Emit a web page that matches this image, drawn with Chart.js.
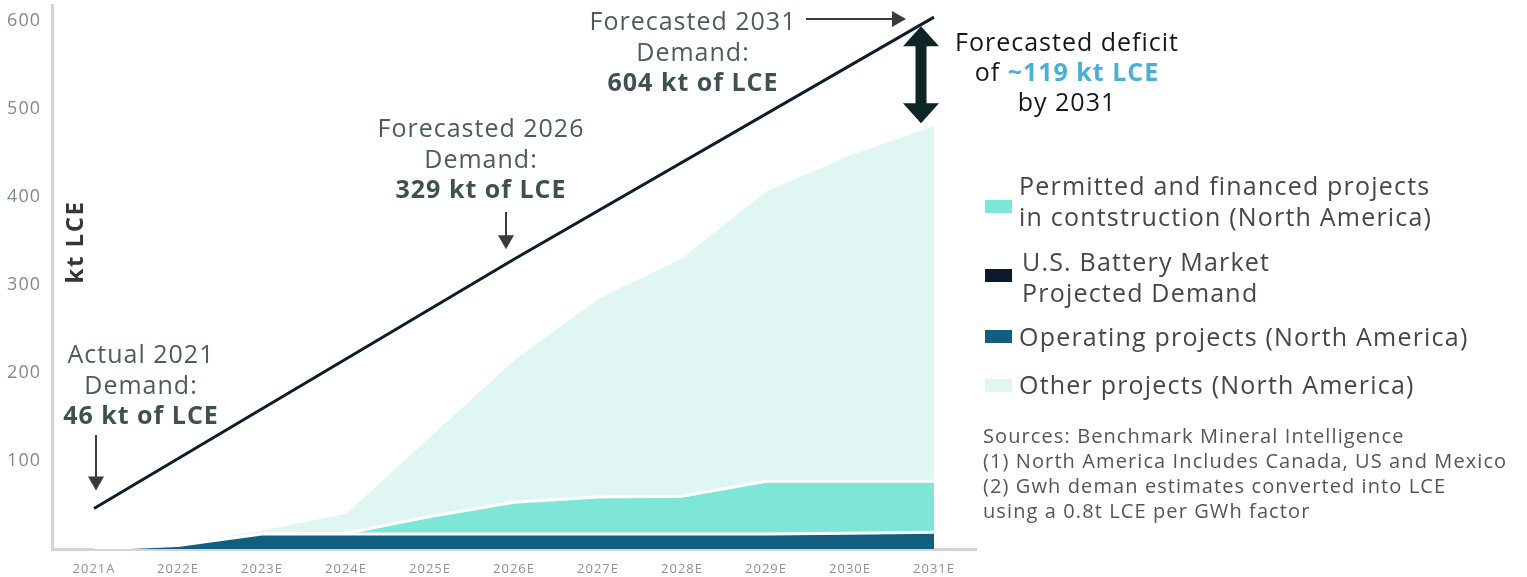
<!DOCTYPE html>
<html>
<head>
<meta charset="utf-8">
<script src="https://cdn.jsdelivr.net/npm/chart.js@4.4.1/dist/chart.umd.min.js"></script>
<style>
  body { margin: 0; background: #fff; font-family: 'Open Sans', sans-serif; }
  #wrap { position: relative; width: 1527px; height: 577px; overflow: hidden; }
  #grafico { position: absolute; left: 0; top: 0; }
  .leg { position: absolute; left: 985px; color: #4a4446; font-size: 25px; line-height: 31px; letter-spacing: 1.2px; }
  .leg .cx { position: absolute; left: 0; width: 27px; height: 13px; }
  .leg .tx { position: absolute; white-space: nowrap; }
  .fontes { position: absolute; left: 983px; top: 423px; color: #555; font-size: 20px; line-height: 25px; letter-spacing: 1.1px; white-space: nowrap; }
</style>
</head>
<body>
<div id="wrap">
  <canvas id="grafico" width="1527" height="577"></canvas>

  <div class="leg" style="top:170px">
    <div class="cx" style="top:30px;background:#7de6d6"></div>
    <div class="tx" style="left:34px;top:0">Permitted and financed projects<br>in contstruction (North America)</div>
  </div>
  <div class="leg" style="top:246px">
    <div class="cx" style="top:23px;background:#0a1c2a"></div>
    <div class="tx" style="left:37px;top:0">U.S. Battery Market<br>Projected Demand</div>
  </div>
  <div class="leg" style="top:321px">
    <div class="cx" style="top:9px;background:#115e7e"></div>
    <div class="tx" style="left:34px;top:0">Operating projects (North America)</div>
  </div>
  <div class="leg" style="top:369px">
    <div class="cx" style="top:10px;background:#dff6f3"></div>
    <div class="tx" style="left:34px;top:0">Other projects (North America)</div>
  </div>

  <div class="fontes">
    Sources: Benchmark Mineral Intelligence<br>
    (1) North America Includes Canada, US and Mexico<br>
    (2) Gwh deman estimates converted into LCE<br>
    using a 0.8t LCE per GWh factor
  </div>
</div>

<script>
const anos = ['2021A', '2022E', '2023E', '2024E', '2025E', '2026E', '2027E', '2028E', '2029E', '2030E', '2031E']
const marcasY = [100, 200, 300, 400, 500, 600]

// demanda projetada (kt LCE) - so os pontos marcados no grafico
const demanda = [46, null, null, null, null, 329, null, null, null, null, 604]

// camadas empilhadas (kt LCE)
const operacao = [0, 4, 17, 17, 17, 17, 17, 17, 17, 18, 19]
const permitidos = [0, 0, 0, 1, 20, 36, 42, 43, 60, 59, 58]
const outros = [0, 0, 4, 22, 90, 161, 225, 270, 329, 370, 403]

const corTexto = '#4a5d5c'
const corNegrito = '#3d5151'
const corSeta = '#3b3b3b'
const fonte = '"Open Sans"'

const setaBaixo = (ctx, x, y1, y2) => {
  ctx.strokeStyle = corSeta
  ctx.fillStyle = corSeta
  ctx.lineWidth = 2
  ctx.beginPath()
  ctx.moveTo(x, y1)
  ctx.lineTo(x, y2 - 12)
  ctx.stroke()
  ctx.beginPath()
  ctx.moveTo(x - 8, y2 - 14)
  ctx.lineTo(x + 8, y2 - 14)
  ctx.lineTo(x, y2)
  ctx.closePath()
  ctx.fill()
}

const textoNota = (ctx, x, y, linhas) => {
  ctx.textAlign = 'center'
  ctx.textBaseline = 'middle'
  linhas.forEach((l, i) => {
    ctx.font = (l.negrito ? 'bold ' : '') + '25px ' + fonte
    ctx.fillStyle = l.negrito ? corNegrito : corTexto
    ctx.fillText(l.t, x, y + i * 30.5)
  })
}

const notas = {
  id: 'notas',
  beforeDraw(chart) {
    chart.ctx.letterSpacing = '1px'
  },
  afterDatasetsDraw(chart) {
    const { ctx, scales: { x, y } } = chart
    ctx.save()
    ctx.letterSpacing = '1px'

    // titulo do eixo
    ctx.save()
    ctx.translate(76, 242)
    ctx.rotate(-Math.PI / 2)
    ctx.letterSpacing = '1.5px'
    ctx.font = 'bold 24px ' + fonte
    ctx.fillStyle = '#3a3336'
    ctx.textAlign = 'center'
    ctx.textBaseline = 'middle'
    ctx.fillText('kt LCE', 0, 0)
    ctx.restore()

    // 2021
    const x0 = x.getPixelForValue(0)
    textoNota(ctx, 141, 356, [{ t: 'Actual 2021' }, { t: 'Demand:' }, { t: '46 kt of LCE', negrito: true }])
    setaBaixo(ctx, x0 + 2, 435, y.getPixelForValue(demanda[0]) - 18)

    // 2026
    const x5 = x.getPixelForValue(5)
    textoNota(ctx, 481, 130, [{ t: 'Forecasted 2026' }, { t: 'Demand:' }, { t: '329 kt of LCE', negrito: true }])
    setaBaixo(ctx, x5 - 8, 212, y.getPixelForValue(demanda[5]) - 10)

    // 2031
    const x10 = x.getPixelForValue(10)
    textoNota(ctx, 693, 23, [{ t: 'Forecasted 2031' }, { t: 'Demand:' }, { t: '604 kt of LCE', negrito: true }])
    const yS = 19
    ctx.strokeStyle = corSeta
    ctx.fillStyle = corSeta
    ctx.lineWidth = 2
    ctx.beginPath()
    ctx.moveTo(806, yS)
    ctx.lineTo(x10 - 40, yS)
    ctx.stroke()
    ctx.beginPath()
    ctx.moveTo(x10 - 42, yS - 8)
    ctx.lineTo(x10 - 42, yS + 8)
    ctx.lineTo(x10 - 28, yS)
    ctx.closePath()
    ctx.fill()

    // seta dupla do deficit
    const topo = y.getPixelForValue(demanda[10]) + 9
    const ofertaFinal = operacao[10] + permitidos[10] + outros[10]
    const base = y.getPixelForValue(ofertaFinal) - 3
    const xa = x10 - 13
    ctx.fillStyle = '#0e2526'
    ctx.beginPath()
    ctx.moveTo(xa, topo)
    ctx.lineTo(xa + 18, topo + 20)
    ctx.lineTo(xa + 5.5, topo + 20)
    ctx.lineTo(xa + 5.5, base - 20)
    ctx.lineTo(xa + 18, base - 20)
    ctx.lineTo(xa, base)
    ctx.lineTo(xa - 18, base - 20)
    ctx.lineTo(xa - 5.5, base - 20)
    ctx.lineTo(xa - 5.5, topo + 20)
    ctx.lineTo(xa - 18, topo + 20)
    ctx.closePath()
    ctx.fill()

    // texto do deficit
    ctx.textAlign = 'center'
    ctx.textBaseline = 'middle'
    ctx.font = '25px ' + fonte
    ctx.fillStyle = '#161616'
    ctx.fillText('Forecasted deficit', 1067, 44)
    const p1 = 'of ', p2 = '~119 kt LCE'
    const w1 = ctx.measureText(p1).width
    ctx.font = 'bold 25px ' + fonte
    const w2 = ctx.measureText(p2).width
    const xi = 1067 - (w1 + w2) / 2
    ctx.textAlign = 'left'
    ctx.font = '25px ' + fonte
    ctx.fillText(p1, xi, 74)
    ctx.font = 'bold 25px ' + fonte
    ctx.fillStyle = '#4aaed6'
    ctx.fillText(p2, xi + w1, 74)
    ctx.textAlign = 'center'
    ctx.font = '25px ' + fonte
    ctx.fillStyle = '#161616'
    ctx.fillText('by 2031', 1067, 104)

    ctx.restore()
  }
}

const $ctx = document.getElementById('grafico')

new Chart($ctx, {
  type: 'line',
  data: {
    labels: anos,
    datasets: [
      {
        label: 'U.S. Battery Market Projected Demand',
        data: demanda,
        stack: 'demanda',
        borderColor: '#0b1e2b',
        borderWidth: 3,
        pointRadius: 0,
        spanGaps: true,
        fill: false,
        tension: 0
      },
      {
        label: 'Operating projects (North America)',
        data: operacao,
        stack: 'oferta',
        backgroundColor: '#115e7e',
        borderColor: '#ffffff',
        borderWidth: 3,
        pointRadius: 0,
        fill: 'origin',
        tension: 0
      },
      {
        label: 'Permitted and financed projects in contstruction (North America)',
        data: permitidos,
        stack: 'oferta',
        backgroundColor: '#7de6d6',
        borderColor: '#ffffff',
        borderWidth: 3,
        pointRadius: 0,
        fill: '-1',
        tension: 0
      },
      {
        label: 'Other projects (North America)',
        data: outros,
        stack: 'oferta',
        backgroundColor: '#dff6f3',
        borderColor: 'rgba(255,255,255,0)',
        borderWidth: 0,
        pointRadius: 0,
        fill: '-1',
        tension: 0
      }
    ]
  },
  options: {
    responsive: false,
    animation: false,
    layout: { padding: { top: 3, right: 551, bottom: 0, left: 0 } },
    plugins: {
      legend: { display: false },
      tooltip: { enabled: false }
    },
    scales: {
      x: {
        offset: true,
        grid: { display: false },
        border: { display: true, color: '#d4d4d4', width: 3 },
        ticks: { color: '#8e9393', font: { family: 'Open Sans', size: 13 }, padding: 4, maxRotation: 0 },
        afterFit: s => { s.height = 28 }
      },
      y: {
        stacked: true,
        min: 0,
        max: 617,
        grid: { display: false },
        border: { display: true, color: '#d4d4d4', width: 3 },
        ticks: {
          color: '#7f8b8b',
          font: { family: 'Open Sans', size: 18, lineHeight: 0.3 },
          padding: 3
        },
        afterBuildTicks: s => { s.ticks = marcasY.map(v => ({ value: v })) },
        afterFit: s => { s.width = 52 }
      }
    }
  },
  plugins: [notas]
})
</script>
</body>
</html>
